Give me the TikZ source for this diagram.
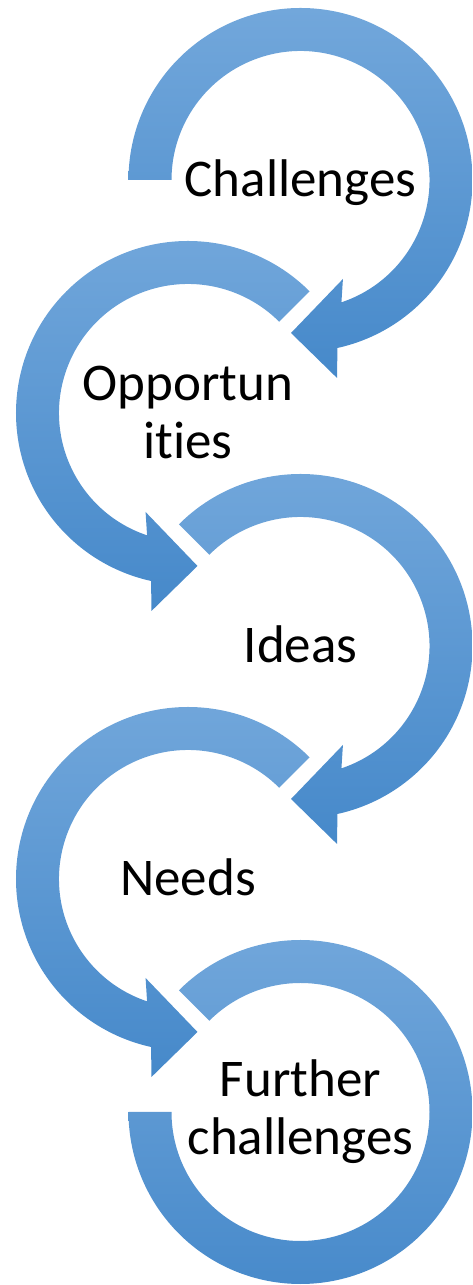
\documentclass[tikz,border=0pt]{standalone}
\usepackage{fontspec}
\setmainfont{Carlito}[Ligatures={NoCommon}]
\usetikzlibrary{positioning}
\definecolor{arrowtop}{HTML}{72A7DB}
\definecolor{arrowbot}{HTML}{4689CA}

\begin{document}
\begin{tikzpicture}[x=1pt,y=1pt,
    cyclearrow/.style={top color=arrowtop, bottom color=arrowbot, draw=none},
    stage/.style={font=\fontsize{53}{58}\selectfont, align=center, text=black, inner sep=0pt},
    oneline/.style={stage, text height=36pt, text depth=2pt}]
    \useasboundingbox (0,0) rectangle (473,1285);

    \coordinate (c1) at (300.5,1105);
    \coordinate (c2) at (188,872);
    \coordinate (c3) at (300.5,639);
    \coordinate (c4) at (188,406);
    \coordinate (c5) at (300.5,173);

    % four curved arrows, the even ones mirrored
    \foreach \c/\f/\s in {c1/1/180, c2/-1/135, c3/1/135, c4/-1/135}
        \shade[cyclearrow, shift={(\c)}, xscale=\f]
            (\s:172) arc[start angle=\s, end angle=-77.6, radius=172pt]
            -- (-79.55:201.3) -- (-93.55:153.3) -- (-66.8:107.7) -- (-71.5:129)
            arc[start angle=-71.5, end angle=\s, radius=129pt] -- cycle;

    % last ring has no head
    \shade[cyclearrow, shift={(c5)}]
        (135:172) arc[start angle=135, end angle=-180, radius=172pt]
        -- (180:129) arc[start angle=-180, end angle=135, radius=129pt] -- cycle;

    \node[oneline] (challenges) at (c1) {Challenges};
    \node[stage] (opportunities) at (c2) {Opportun\\it\kern0pt ies};
    \node[oneline] (ideas) at (c3) {Ideas};
    \node[oneline] (needs) at (c4) {Needs};
    \node[stage] (further) at (c5) {Further\\challenges};
\end{tikzpicture}
\end{document}
